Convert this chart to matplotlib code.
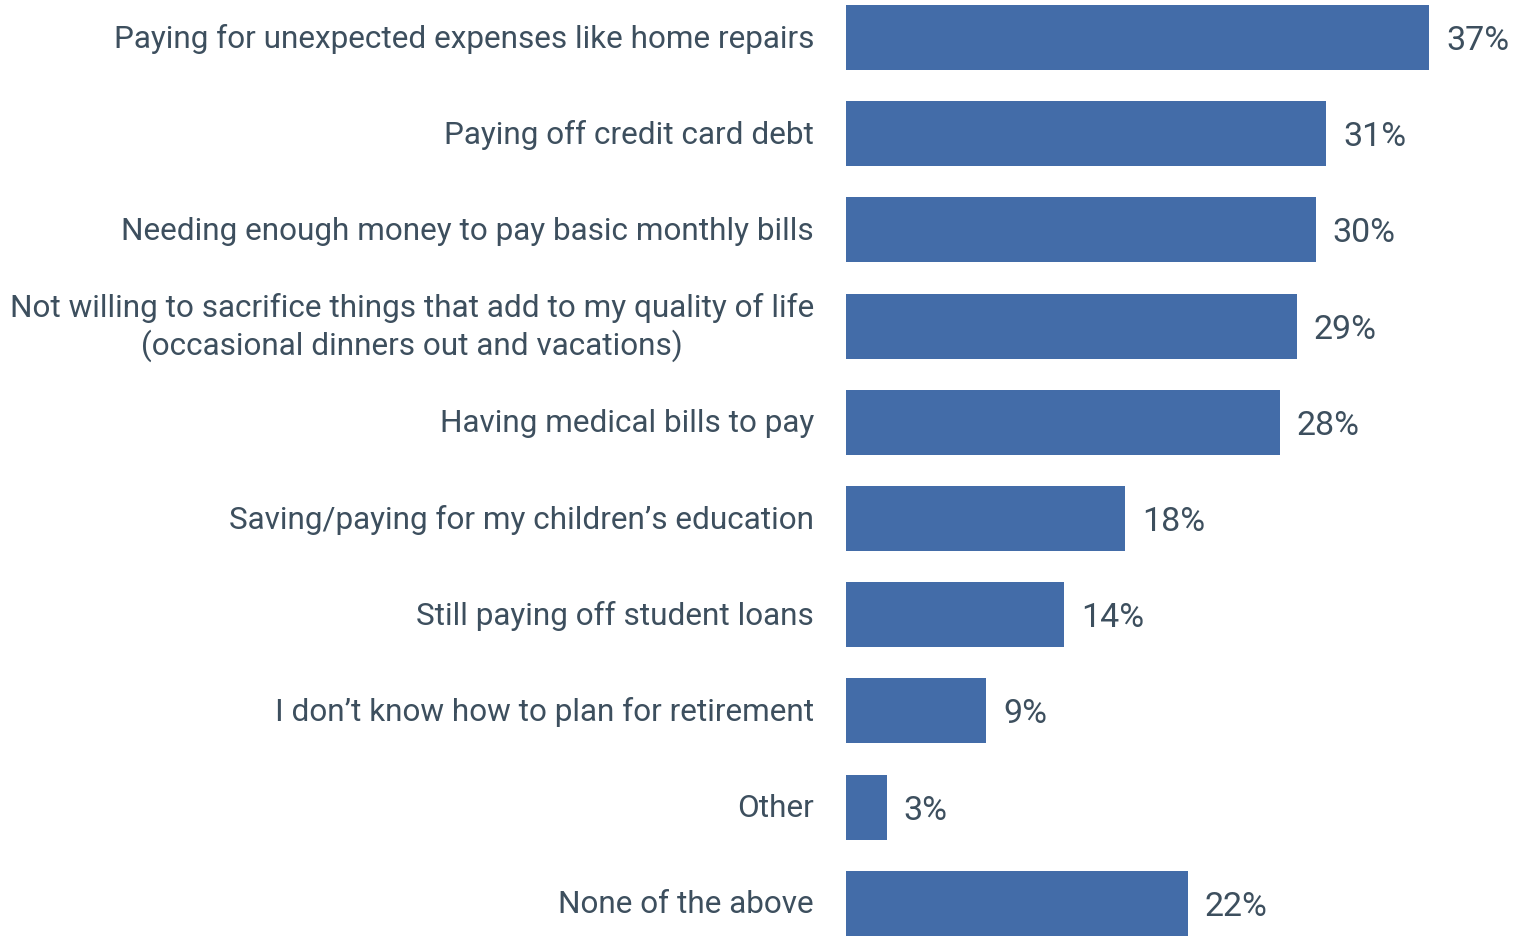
import matplotlib
matplotlib.use("Agg")
import matplotlib.pyplot as plt

categories = [
    "Paying for unexpected expenses like home repairs",
    "Paying off credit card debt",
    "Needing enough money to pay basic monthly bills",
    "Not willing to sacrifice things that add to my quality of life\n(occasional dinners out and vacations)",
    "Having medical bills to pay",
    "Saving/paying for my children\u2019s education",
    "Still paying off student loans",
    "I don\u2019t know how to plan for retirement",
    "Other",
    "None of the above",
]
values = [37.4, 30.8, 30.1, 28.9, 27.8, 17.9, 14.0, 9.0, 2.6, 21.9]
value_labels = ["37%", "31%", "30%", "29%", "28%", "18%", "14%", "9%", "3%", "22%"]

BAR = "#436ca8"
TXT = "#3d4f5e"
FONT = "Roboto"
FS = 22.7
FSV = 24.5

W, H = 1513, 936
PX = 72 / 100  # points per pixel
fig = plt.figure(figsize=(W / 100, H / 100), dpi=100)
left = 846 / W
ax = fig.add_axes([left, 0, 1 - left, 1])

pos = list(range(len(categories)))
ax.barh(pos, values, height=0.675, color=BAR)
ax.set_xlim(0, (W - 846) / 15.6)
ax.set_ylim(9.34, -0.39)
ax.set_xticks([])
ax.set_yticks([])
for s in ax.spines.values():
    s.set_visible(False)

for p, c in zip(pos, categories):
    ax.annotate(c, xy=(0, p), xytext=(-32 * PX, -1.5 * PX), textcoords="offset points",
                ha="right", va="center", multialignment="center", linespacing=1.25,
                fontsize=FS, color=TXT, family=FONT, annotation_clip=False)

for p, v, t in zip(pos, values, value_labels):
    ax.annotate(t, xy=(v, p), xytext=(17 * PX, -3.5 * PX), textcoords="offset points",
                ha="left", va="center", fontsize=FSV, color=TXT, family=FONT,
                annotation_clip=False)

fig.savefig("out.png", dpi=100)
